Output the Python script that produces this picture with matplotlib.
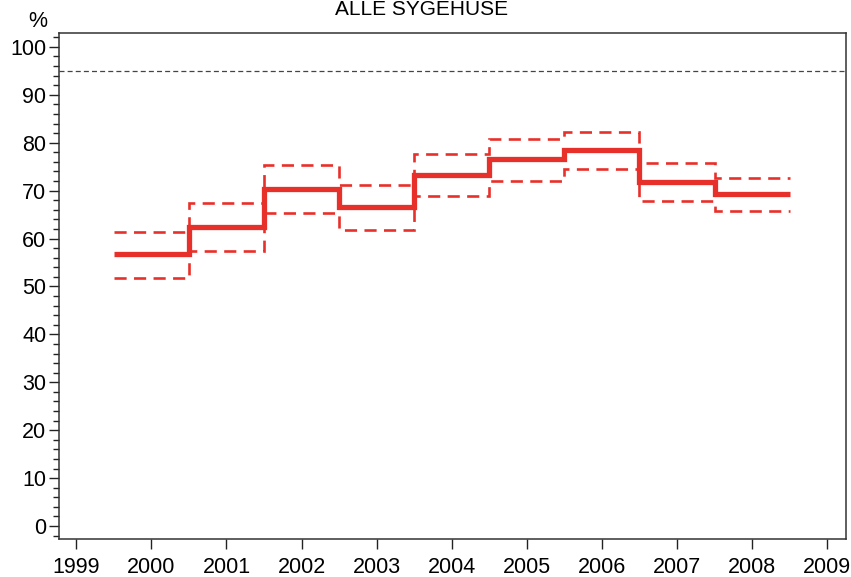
import numpy as np
import matplotlib.pyplot as plt
from matplotlib.ticker import MultipleLocator

plt.rcParams['font.family'] = ['Liberation Sans', 'DejaVu Sans']

years = [2000, 2001, 2002, 2003, 2004, 2005, 2006, 2007, 2008]
andel = [56.7, 62.4, 70.4, 66.6, 73.3, 76.6, 78.5, 71.9, 69.3]
upper = [61.4, 67.4, 75.4, 71.2, 77.7, 80.8, 82.2, 75.7, 72.6]
lower = [51.7, 57.3, 65.4, 61.8, 68.8, 72.1, 74.6, 67.9, 65.8]
standard = 95
title = "ALLE SYGEHUSE"

red = '#e8302a'
edges = np.append(np.array(years) - 0.5, years[-1] + 0.5)

fig = plt.figure(figsize=(8.51, 5.77), dpi=100)
ax = fig.add_axes([0.0693, 0.0659, 0.9248, 0.8769])

ax.axhline(standard, color='#444444', lw=0.9, ls=(0, (4, 2.5)))
ax.stairs(upper, edges, baseline=None, color=red, lw=1.9, ls=(0, (4.6, 2.8)))
ax.stairs(lower, edges, baseline=None, color=red, lw=1.9, ls=(0, (4.6, 2.8)))
ax.stairs(andel, edges, baseline=None, color=red, lw=3.8)

ax.set_xlim(1998.77, 2009.25)
ax.set_ylim(-2.7, 102.9)
ax.set_xticks(range(1999, 2010))
ax.yaxis.set_major_locator(MultipleLocator(10))
ax.yaxis.set_minor_locator(MultipleLocator(2))
ax.tick_params(axis='both', which='major', labelsize=15.5, length=7, width=1, colors='#222222', labelcolor='black')
ax.tick_params(axis='y', which='minor', length=4, width=1, colors='#222222')
ax.tick_params(axis='y', pad=2)
ax.tick_params(axis='x', pad=6)
for s in ax.spines.values():
    s.set_linewidth(1.1)
    s.set_color('#333333')

fig.text(0.044, 0.962, '%', fontsize=15.5, ha='center', va='center')
fig.text(0.495, 1.0, title, fontsize=15, ha='center', va='top')

fig.savefig('out.png', dpi=100)
